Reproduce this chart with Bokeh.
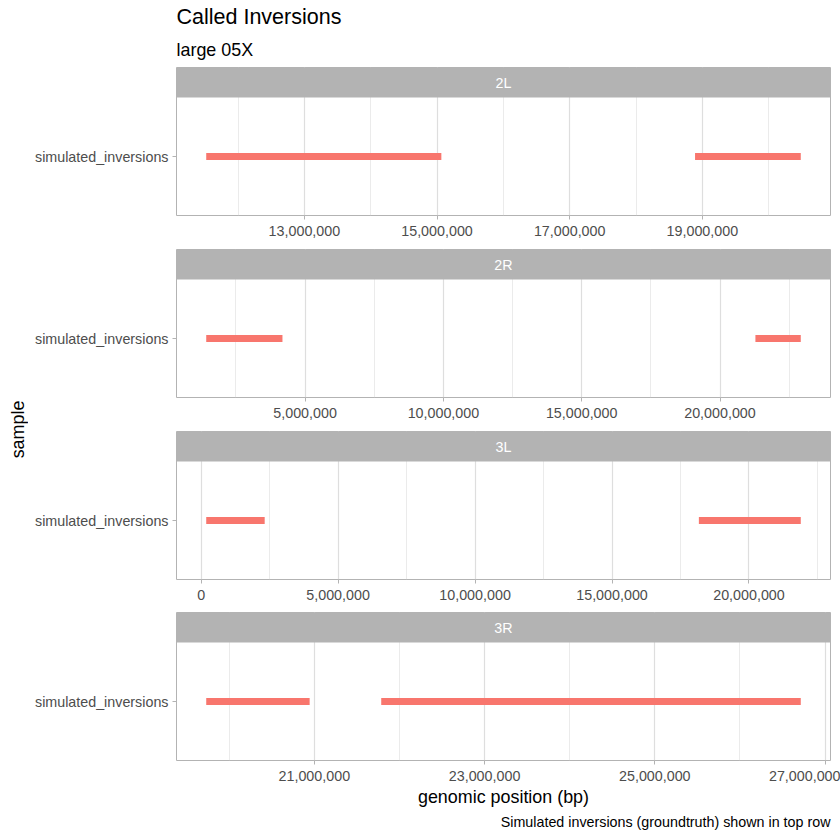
import math
from bokeh.plotting import figure
from bokeh.layouts import column, row
from bokeh.models import Range1d, FixedTicker, NumeralTickFormatter, Title, ColumnDataSource
from bokeh.core.properties import value
from bokeh.embed import file_html
from bokeh.resources import INLINE

# ---------------- data ----------------
chromosomes = ["2L", "2R", "3L", "3R"]
sample_name = "simulated_inversions"

inv_chrom = ["2L", "2L", "2R", "2R", "3L", "3L", "3R", "3R"]
inv_start = [11_520_000, 18_890_000, 1_425_000, 21_280_000, 186_000, 18_170_000, 19_730_000, 21_786_000]
inv_end = [15_065_000, 20_484_000, 4_181_000, 22_920_000, 2_320_000, 21_890_000, 20_945_000, 26_715_000]

ticks_2L = [13_000_000, 15_000_000, 17_000_000, 19_000_000]
minor_2L = [12_000_000, 14_000_000, 16_000_000, 18_000_000, 20_000_000]
ticks_2R = [5_000_000, 10_000_000, 15_000_000, 20_000_000]
minor_2R = [2_500_000, 7_500_000, 12_500_000, 17_500_000, 22_500_000]
ticks_3L = [0, 5_000_000, 10_000_000, 15_000_000, 20_000_000]
minor_3L = [2_500_000, 7_500_000, 12_500_000, 17_500_000, 22_500_000]
ticks_3R = [21_000_000, 23_000_000, 25_000_000, 27_000_000]
minor_3R = [20_000_000, 22_000_000, 24_000_000, 26_000_000]

major_ticks = {"2L": ticks_2L, "2R": ticks_2R, "3L": ticks_3L, "3R": ticks_3R}
minor_ticks = {"2L": minor_2L, "2R": minor_2R, "3L": minor_3L, "3R": minor_3R}

title_text = "Called Inversions"
subtitle_text = "large 05X"
x_label = "genomic position (bp)"
y_label = "sample"
caption_text = "Simulated inversions (groundtruth) shown in top row"

# ---------------- style ----------------
FONT = "Liberation Sans"
BAR_COLOR = "#F8766D"
STRIP_COLOR = "#B3B3B3"
GRID_COLOR = "#DEDEDE"
TEXT_GRAY = "#4D4D4D"
SMALL = "14.3px"
MID = "17.9px"
BIG = "21.5px"
STRIP_PX = 30
PANEL_PX = 118
LABEL_W = 28
LEFT = 148
FRAME_W = 654
RIGHT = 10
PW = LEFT + FRAME_W + RIGHT
TOTAL_H = 840


def make_panel(chrom, height, top, bottom):
    xs = [s for s, c in zip(inv_start, inv_chrom) if c == chrom]
    xe = [e for e, c in zip(inv_end, inv_chrom) if c == chrom]
    lo, hi = min(xs), max(xe)
    pad = 0.05 * (hi - lo)
    x0, x1 = lo - pad, hi + pad
    ytop = 1 + STRIP_PX / PANEL_PX
    p = figure(width=PW, height=height, x_range=Range1d(x0, x1), y_range=Range1d(0, ytop),
               output_backend="svg", toolbar_location=None, tools="",
               min_border_left=LEFT, min_border_right=RIGHT,
               min_border_top=top, min_border_bottom=bottom)
    p.background_fill_color = "white"
    p.border_fill_color = "white"
    p.outline_line_color = STRIP_COLOR
    p.outline_line_width = 1

    ypos = 0.5  # centre of the single sample row
    src = ColumnDataSource(dict(start=xs, end=xe, y=[ypos] * len(xs)))
    p.segment(x0="start", y0="y", x1="end", y1="y", source=src,
              line_color=BAR_COLOR, line_width=7, line_cap="butt")

    # facet strip
    p.quad(left=[x0], right=[x1], bottom=[1], top=[ytop], fill_color=STRIP_COLOR, line_color=None)
    p.text(x=[(x0 + x1) / 2], y=[1 + (ytop - 1) / 2], text=[chrom], text_color="white",
           text_font=value(FONT), text_font_size=SMALL, text_align="center", text_baseline="middle")

    tk = FixedTicker(ticks=major_ticks[chrom], minor_ticks=minor_ticks[chrom])
    p.xaxis.ticker = tk
    p.xgrid.ticker = tk
    p.xaxis.formatter = NumeralTickFormatter(format="0,0")
    p.yaxis.ticker = FixedTicker(ticks=[ypos])
    p.yaxis.major_label_overrides = {ypos: sample_name}

    for ax in (p.xaxis[0], p.yaxis[0]):
        ax.axis_line_color = None
        ax.major_tick_line_color = STRIP_COLOR
        ax.major_tick_out = 4
        ax.major_tick_in = 0
        ax.minor_tick_line_color = None
        ax.major_label_text_color = TEXT_GRAY
        ax.major_label_text_font = FONT
        ax.major_label_text_font_size = SMALL
    p.xaxis.major_label_standoff = 6
    p.yaxis.major_label_standoff = 4

    p.ygrid.visible = False
    p.xgrid.grid_line_color = GRID_COLOR
    p.xgrid.grid_line_width = 1.2
    p.xgrid.minor_grid_line_color = GRID_COLOR
    p.xgrid.minor_grid_line_width = 0.6
    return p


p1 = make_panel("2L", 245, 67, 30)
p2 = make_panel("2R", 182, 4, 30)
p3 = make_panel("3L", 182, 4, 30)
p4 = make_panel("3R", 231, 3, 80)

p1.add_layout(Title(text=subtitle_text, align="left", text_font=FONT, text_font_size=MID,
                    text_font_style="normal", text_color="black", standoff=15), "above")
p1.add_layout(Title(text=title_text, align="left", text_font=FONT, text_font_size=BIG,
                    text_font_style="normal", text_color="black", standoff=4), "above")

p4.xaxis.axis_label = x_label
p4.xaxis.axis_label_text_font = FONT
p4.xaxis.axis_label_text_font_size = MID
p4.xaxis.axis_label_text_font_style = "normal"
p4.xaxis.axis_label_text_color = "black"
p4.xaxis.axis_label_standoff = 3
p4.add_layout(Title(text=caption_text, align="right", text_font=FONT, text_font_size=SMALL,
                    text_font_style="normal", text_color="black", standoff=4), "below")

lab = figure(width=LABEL_W, height=TOTAL_H, x_range=Range1d(0, 1), y_range=Range1d(0, 1),
             output_backend="svg", toolbar_location=None, tools="", min_border=0)
lab.axis.visible = False
lab.grid.visible = False
lab.outline_line_color = None
lab.text(x=[0.625], y=[1 - 429 / TOTAL_H], text=[y_label], angle=math.pi / 2, text_color="black",
         text_font=value(FONT), text_font_size=MID, text_align="center", text_baseline="middle")

layout = row(lab, column(p1, p2, p3, p4))
open("out.html", "w").write(file_html(layout, INLINE))
